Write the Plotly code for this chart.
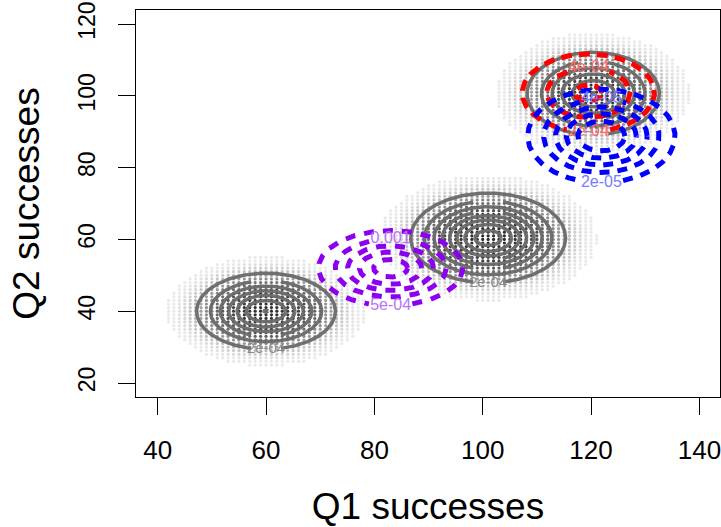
import numpy as np
import plotly.graph_objects as go

# ---------------- data ----------------
x_ticks = [40, 60, 80, 100, 120, 140]
y_ticks = [20, 40, 60, 80, 100, 120]
x_range = [36.0, 143.8]
y_range = [16.1, 123.9]

# gray clusters: centre, spread, mass, approx. sample size
clu_x = [60.0, 101.0, 120.4]
clu_y = [40.0, 60.4, 100.6]
clu_sx = [6.49, 6.91, 6.45]
clu_sy = [5.37, 6.04, 6.08]
clu_w = [0.307, 0.446, 0.296]
clu_n = [2450, 3570, 2370]
gray_levels = [2e-4, 4e-4, 6e-4, 8e-4, 1e-3, 1.2e-3, 1.4e-3, 1.6e-3]
gray_labels = ["2e-04", "4e-04", "6e-04", "8e-04", "0.001", "0.0012", "0.0014", "0.0016"]

# dashed density contours
red_c = [119.5, 100.8]
red_s = [8.05, 7.16]
red_w = 0.228
red_levels = [2e-4, 4e-4, 6e-4]
red_labels = ["2e-04", "4e-04", "6e-04"]

blue_c = [121.9, 88.8]
blue_s = [7.18, 6.87]
blue_w = 0.0372
blue_levels = [2e-5, 4e-5, 6e-5, 8e-5, 1e-4]
blue_labels = ["2e-05", "4e-05", "6e-05", "8e-05", "1e-04"]

purple_c = [83.0, 52.0]
purple_s = [7.2, 5.66]
purple_w = 0.704
purple_levels = [5e-4, 1e-3, 1.5e-3, 2e-3, 2.5e-3]
purple_labels = ["5e-04", "0.001", "0.0015", "0.002", "0.0025"]

PX_X = 5.4   # px per x unit (for label gaps)

def ring(cx, cy, sx, sy, w, L, gap_side, gap_px=30):
    P = w / (2 * np.pi * sx * sy)
    if L >= P:
        return None
    r = np.sqrt(2 * np.log(P / L))
    rad_px = sx * r * PX_X
    t0 = -np.pi / 2 if gap_side == "bottom" else np.pi / 2
    if gap_side is not None and rad_px > 38:
        g = gap_px / 2 / rad_px
        t = np.linspace(t0 + g, t0 + 2 * np.pi - g, 400)
    else:
        t = np.linspace(0, 2 * np.pi, 400)
    xs = cx + sx * r * np.cos(t)
    ys = cy + sy * r * np.sin(t)
    lab = (cx + sx * r * np.cos(t0), cy + sy * r * np.sin(t0), rad_px > 38)
    return xs, ys, lab

fig = go.Figure()

gray_rings = []
gray_lab_x, gray_lab_y, gray_lab_t = [], [], []
for k in range(3):
    for i, L in enumerate(gray_levels):
        side = "bottom" if i % 2 == 0 else "top"
        res = ring(clu_x[k], clu_y[k], clu_sx[k], clu_sy[k], clu_w[k], L, side)
        if res is None:
            continue
        xs, ys, (lx, ly, ok) = res
        gray_rings.append((xs, ys))
        if ok and i == 0 and k < 2:
            gray_lab_x.append(lx); gray_lab_y.append(ly); gray_lab_t.append(gray_labels[i])

# ---- sample clouds on the integer lattice ----
px, py, pc = [], [], []
for k in range(3):
    xs = np.arange(np.floor(clu_x[k] - 4 * clu_sx[k]), np.ceil(clu_x[k] + 4 * clu_sx[k]) + 1)
    ys = np.arange(np.floor(clu_y[k] - 4 * clu_sy[k]), np.ceil(clu_y[k] + 4 * clu_sy[k]) + 1)
    for xv in xs:
        for yv in ys:
            d = ((xv - clu_x[k]) / clu_sx[k]) ** 2 + ((yv - clu_y[k]) / clu_sy[k]) ** 2
            cnt = clu_n[k] * np.exp(-d / 2) / (2 * np.pi * clu_sx[k] * clu_sy[k])
            if cnt < 0.2:
                continue
            a = 1 - (1 - 0.25) ** cnt
            a = max(a, 0.1)
            px.append(float(xv)); py.append(float(yv))
            pc.append(f"rgba(40,40,40,{a:.3f})")

fig.add_trace(go.Scatter(x=px, y=py, mode="markers",
                         marker=dict(size=3.2, color=pc, line=dict(width=0)),
                         hoverinfo="skip"))

# ---- gray solid contours ----
for xs, ys in gray_rings:
    fig.add_trace(go.Scatter(x=xs, y=ys, mode="lines",
                             line=dict(color="rgba(105,105,105,0.95)", width=3.5),
                             hoverinfo="skip"))
fig.add_trace(go.Scatter(x=gray_lab_x, y=gray_lab_y, text=gray_lab_t, mode="text",
                         textfont=dict(family="Liberation Sans", size=15, color="#8a8a8a"),
                         hoverinfo="skip"))

# ---- dashed coloured contours ----
def dashed_set(c, s, w, levels, labels, color, lab_color, dash, label_idx):
    lx, ly, lt = [], [], []
    for i, L in enumerate(levels):
        side = ("bottom" if i % 2 == 0 else "top") if i in label_idx else None
        res = ring(c[0], c[1], s[0], s[1], w, L, side, gap_px=44)
        if res is None:
            continue
        xs, ys, (x0, y0, ok) = res
        fig.add_trace(go.Scatter(x=xs, y=ys, mode="lines",
                                 line=dict(color=color, width=5, dash=dash),
                                 hoverinfo="skip"))
        if i in label_idx and ok:
            lx.append(x0); ly.append(y0); lt.append(labels[i])
    fig.add_trace(go.Scatter(x=lx, y=ly, text=lt, mode="text",
                             textfont=dict(family="Liberation Sans", size=16, color=lab_color),
                             hoverinfo="skip"))

dashed_set(red_c, red_s, red_w, red_levels, red_labels, "#ff0000", "#ff6a6a", "11px,7px", [0, 1])
dashed_set(blue_c, blue_s, blue_w, blue_levels, blue_labels, "#0000ff", "#7a7aff", "10px,8px", [0, 1])
dashed_set(purple_c, purple_s, purple_w, purple_levels, purple_labels, "#8c00f0", "#b873f5", "10px,9px", [0, 1])

x_tick_font = dict(family="Liberation Sans", size=26, color="black")
y_tick_font = dict(family="Liberation Sans", size=23, color="black")
title_font = dict(family="Liberation Sans", size=37, color="black")
fig.update_layout(
    width=721, height=527,
    margin=dict(l=136, r=1, t=10, b=130),
    plot_bgcolor="white", paper_bgcolor="white",
    showlegend=False,
    xaxis=dict(range=x_range, tickvals=x_ticks, ticks="outside", ticklen=17,
               tickcolor="black", tickwidth=1, showline=True, linecolor="black",
               linewidth=1, mirror=True, showgrid=False, zeroline=False,
               tickfont=x_tick_font, ticklabelstandoff=13, automargin=False,
               ticklabeloverflow="allow",
               title=dict(text="Q1 successes", font=title_font, standoff=40)),
    yaxis=dict(range=y_range, tickvals=y_ticks, ticks="outside", ticklen=17,
               tickcolor="black", tickwidth=1, showline=True, linecolor="black",
               linewidth=1, mirror=True, showgrid=False, zeroline=False,
               tickfont=y_tick_font, tickangle=-90, ticklabelstandoff=14, automargin=False,
               ticklabeloverflow="allow",
               title=dict(text="Q2 successes", font=title_font, standoff=22)),
)

fig.write_html("out.html")
